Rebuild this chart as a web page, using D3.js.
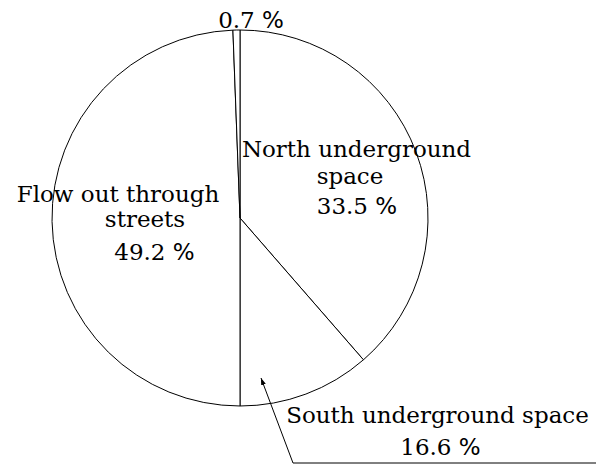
<!DOCTYPE html>
<html>
<head>
<meta charset="utf-8">
<script src="https://cdn.jsdelivr.net/npm/d3@7"></script>
<style>
  html, body { margin: 0; padding: 0; background: #fff; }
  svg { display: block; }
  .lbl { font-family: "DejaVu Serif", serif; font-size: 23px; fill: #000; }
  .pct { font-family: "DejaVu Sans", sans-serif; }
</style>
</head>
<body>
<script>
// ---- data ----
const categories = ["North underground space", "South underground space", "Flow out through streets", "Other"];
// angular shares of the drawn wedges (clockwise from 12 o'clock)
const sliceShares = [38.6, 11.4, 49.4, 0.6];
// percentages printed on the chart
const labelPercents = ["33.5", "16.6", "49.2", "0.7"];
const labelLines = [["North underground", "space"], ["South underground space"], ["Flow out through", "streets"], []];

// ---- layout ----
const W = 596, H = 466;
const cx = 240, cy = 218, R = 188;

const svg = d3.select("body").append("svg")
  .attr("width", W).attr("height", H);

svg.append("defs").append("marker")
  .attr("id", "arrow")
  .attr("viewBox", "0 0 10 10")
  .attr("refX", 10).attr("refY", 5)
  .attr("markerWidth", 7).attr("markerHeight", 7)
  .attr("markerUnits", "userSpaceOnUse")
  .attr("orient", "auto")
  .append("path").attr("d", "M0,1.5 L10,5 L0,8.5 Z").attr("fill", "#000");

const pie = d3.pie().sort(null).value(d => d).startAngle(0).endAngle(2 * Math.PI);
const arcs = pie(sliceShares);
const arc = d3.arc().innerRadius(0).outerRadius(R);

const g = svg.append("g").attr("transform", `translate(${cx},${cy})`);
g.selectAll("path.slice").data(arcs).join("path")
  .attr("class", "slice")
  .attr("d", arc)
  .attr("fill", "#fff")
  .attr("stroke", "#000")
  .attr("stroke-width", 1)
  .attr("stroke-linejoin", "round");

// label placement (absolute page coords: line centers and baselines)
const placements = [
  { lines: [[356.5, 157], [350, 183.5]], pct: [357, 214] },
  { lines: [[437.5, 423]], pct: [440.5, 455] },
  { lines: [[118, 201.7], [145, 227]], pct: [154.5, 260] },
  { lines: [], pct: [251, 28] }
];

categories.forEach((c, i) => {
  const p = placements[i];
  labelLines[i].forEach((t, j) => {
    svg.append("text").attr("class", "lbl")
      .attr("x", p.lines[j][0]).attr("y", p.lines[j][1])
      .attr("text-anchor", "middle")
      .text(t);
  });
  const txt = svg.append("text").attr("class", "lbl")
    .attr("x", p.pct[0]).attr("y", p.pct[1])
    .attr("text-anchor", "middle");
  txt.append("tspan").text(labelPercents[i] + " ");
  txt.append("tspan").attr("class", "pct").text("%");
});

// leader for South underground space
const elbow = [293, 463];
const tip = [261, 378];
svg.append("path")
  .attr("d", `M${W},${elbow[1]} L${elbow[0]},${elbow[1]} L${tip[0]},${tip[1]}`)
  .attr("fill", "none").attr("stroke", "#000").attr("stroke-width", 1)
  .attr("marker-end", "url(#arrow)");
</script>
</body>
</html>
